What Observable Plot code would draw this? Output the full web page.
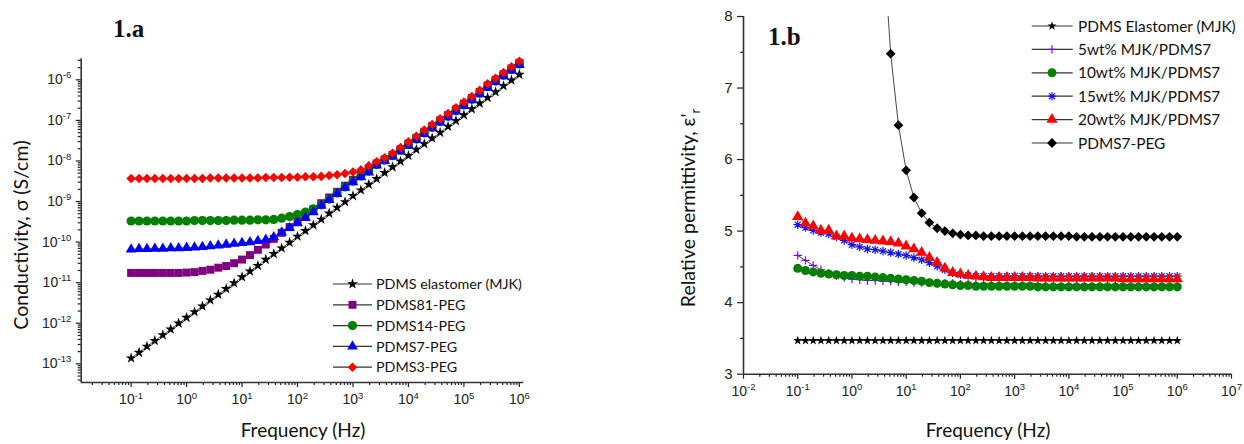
<!DOCTYPE html>
<html><head><meta charset="utf-8">
<script src="https://cdn.jsdelivr.net/npm/d3@7"></script>
<script src="https://cdn.jsdelivr.net/npm/@observablehq/plot@0.6"></script>
<style>
body{margin:0;background:#fff;width:1244px;height:444px;overflow:hidden;position:relative}
#a{position:absolute;left:0;top:0}
#b{position:absolute;left:600px;top:0}
</style></head><body><div id="a"></div><div id="b"></div>
<script>
// measurement frequencies (Hz)
const freq = [0.1,0.139,0.193,0.268,0.373,0.518,0.72, 1,1.39,1.93,2.68,3.73,5.18,7.2,
  10,13.9,19.3,26.8,37.3,51.8,72, 100,139,193,268,373,518,720,
  1e3,1390,1930,2680,3730,5180,7200, 1e4,13900,19300,26800,37300,51800,72000,
  1e5,139000,193000,268000,373000,518000,720000, 1e6];

// Chart 1.a : log10 of conductivity (S/cm)
const sigElastomer = [-12.86,-12.72,-12.57,-12.43,-12.29,-12.15,-12.00,-11.86,-11.72,-11.58,
  -11.43,-11.29,-11.15,-11.01,-10.86,-10.72,-10.58,-10.43,-10.29,-10.15,
  -10.01,-9.86,-9.72,-9.58,-9.44,-9.29,-9.15,-9.01,-8.86,-8.72,
  -8.58,-8.44,-8.29,-8.15,-8.01,-7.87,-7.72,-7.58,-7.44,-7.30,
  -7.15,-7.01,-6.87,-6.72,-6.58,-6.44,-6.30,-6.15,-6.01,-5.87];
const sigPDMS81 = [-10.76,-10.76,-10.76,-10.76,-10.76,-10.76,-10.76,-10.75,-10.74,-10.71,
  -10.68,-10.63,-10.59,-10.52,-10.43,-10.32,-10.19,-10.06,-9.92,-9.77,
  -9.63,-9.49,-9.33,-9.19,-9.04,-8.90,-8.76,-8.61,-8.47,-8.33,
  -8.19,-8.06,-7.96,-7.85,-7.71,-7.57,-7.43,-7.28,-7.14,-7.00,
  -6.87,-6.73,-6.59,-6.45,-6.30,-6.14,-6.00,-5.86,-5.72,-5.58];
const sigPDMS14 = [-9.48,-9.48,-9.48,-9.48,-9.48,-9.48,-9.48,-9.48,-9.47,-9.47,
  -9.47,-9.47,-9.47,-9.46,-9.46,-9.46,-9.45,-9.45,-9.44,-9.41,
  -9.37,-9.32,-9.26,-9.18,-9.08,-8.94,-8.79,-8.64,-8.50,-8.37,
  -8.25,-8.09,-7.98,-7.87,-7.74,-7.60,-7.46,-7.31,-7.17,-7.03,
  -6.90,-6.76,-6.62,-6.48,-6.33,-6.17,-6.03,-5.89,-5.75,-5.61];
const sigPDMS7 = [-10.18,-10.17,-10.17,-10.16,-10.16,-10.15,-10.15,-10.14,-10.13,-10.12,
  -10.10,-10.08,-10.06,-10.04,-10.02,-10.00,-9.97,-9.94,-9.88,-9.76,
  -9.65,-9.53,-9.40,-9.26,-9.10,-8.96,-8.81,-8.66,-8.52,-8.40,
  -8.28,-8.11,-8.00,-7.89,-7.76,-7.62,-7.48,-7.33,-7.19,-7.05,
  -6.92,-6.78,-6.64,-6.50,-6.35,-6.19,-6.05,-5.91,-5.77,-5.63];
const sigPDMS3 = [-8.43,-8.43,-8.43,-8.43,-8.43,-8.43,-8.43,-8.43,-8.43,-8.43,
  -8.42,-8.42,-8.42,-8.42,-8.42,-8.42,-8.42,-8.41,-8.41,-8.41,
  -8.40,-8.40,-8.39,-8.39,-8.38,-8.36,-8.34,-8.31,-8.27,-8.22,
  -8.12,-8.02,-7.92,-7.81,-7.67,-7.53,-7.39,-7.24,-7.10,-6.96,
  -6.83,-6.69,-6.55,-6.41,-6.26,-6.10,-5.96,-5.82,-5.68,-5.54];

// Chart 1.b : relative permittivity
const epsElastomer = [3.47,3.47,3.47,3.47,3.47,3.47,3.47,3.47,3.47,3.47,
  3.47,3.47,3.47,3.47,3.47,3.47,3.47,3.47,3.47,3.47,
  3.47,3.47,3.47,3.47,3.47,3.47,3.47,3.47,3.47,3.47,
  3.47,3.47,3.47,3.47,3.47,3.47,3.47,3.47,3.47,3.47,
  3.47,3.47,3.47,3.47,3.47,3.47,3.47,3.47,3.47,3.47];
const eps5 = [4.66,4.59,4.52,4.46,4.41,4.38,4.35,4.33,4.32,4.31,
  4.31,4.30,4.30,4.29,4.29,4.28,4.28,4.28,4.27,4.27,
  4.27,4.26,4.26,4.26,4.26,4.26,4.26,4.26,4.26,4.26,
  4.26,4.26,4.25,4.25,4.25,4.25,4.25,4.25,4.25,4.25,
  4.25,4.25,4.25,4.25,4.25,4.25,4.25,4.25,4.25,4.25];
const eps10 = [4.48,4.45,4.43,4.41,4.40,4.39,4.38,4.38,4.37,4.37,
  4.36,4.35,4.34,4.33,4.32,4.31,4.30,4.28,4.27,4.26,
  4.25,4.24,4.24,4.23,4.23,4.23,4.23,4.23,4.23,4.23,
  4.23,4.22,4.22,4.22,4.22,4.22,4.22,4.22,4.22,4.22,
  4.22,4.22,4.22,4.22,4.22,4.22,4.22,4.22,4.22,4.22];
const eps15 = [5.09,5.05,5.01,4.98,4.96,4.92,4.87,4.81,4.78,4.75,
  4.74,4.72,4.70,4.68,4.66,4.63,4.60,4.56,4.51,4.46,
  4.42,4.39,4.38,4.37,4.37,4.37,4.37,4.37,4.37,4.37,
  4.37,4.37,4.37,4.37,4.37,4.37,4.37,4.37,4.37,4.37,
  4.37,4.37,4.37,4.37,4.37,4.37,4.37,4.37,4.37,4.37];
const eps20 = [5.20,5.11,5.07,5.01,5.01,4.93,4.93,4.90,4.89,4.88,
  4.87,4.86,4.85,4.83,4.79,4.75,4.70,4.63,4.56,4.48,
  4.42,4.40,4.38,4.37,4.36,4.35,4.35,4.35,4.35,4.35,
  4.35,4.34,4.34,4.34,4.34,4.34,4.34,4.34,4.34,4.34,
  4.34,4.34,4.33,4.33,4.33,4.33,4.33,4.33,4.33,4.33];
const epsPEG = [null,null,null,null,null,null,null,null,null,null,
  11.6,9.1,7.48,6.48,5.85,5.47,5.25,5.12,5.04,5.00,
  4.97,4.95,4.94,4.94,4.93,4.93,4.93,4.93,4.93,4.93,
  4.93,4.93,4.93,4.93,4.93,4.93,4.92,4.92,4.92,4.92,
  4.92,4.92,4.92,4.92,4.92,4.92,4.92,4.92,4.92,4.92];

const namesA = ["PDMS elastomer (MJK)","PDMS81-PEG","PDMS14-PEG","PDMS7-PEG","PDMS3-PEG"];
const namesB = ["PDMS Elastomer (MJK)","5wt% MJK/PDMS7","10wt% MJK/PDMS7","15wt% MJK/PDMS7","20wt% MJK/PDMS7","PDMS7-PEG"];

const asterisk8 = {draw(ctx, size){
  const r = Math.sqrt(size/Math.PI)*1.3, d = r*Math.SQRT1_2;
  ctx.moveTo(-r,0);ctx.lineTo(r,0);ctx.moveTo(0,-r);ctx.lineTo(0,r);
  ctx.moveTo(-d,-d);ctx.lineTo(d,d);ctx.moveTo(-d,d);ctx.lineTo(d,-d);
}};
const d3sym = {star:d3.symbolStar, square:d3.symbolSquare, circle:d3.symbolCircle,
  triangle:d3.symbolTriangle, diamond2:d3.symbolDiamond2, plus:d3.symbolPlus};

const stylesA = [
  {sym:"star", color:"#000", r:3.4},
  {sym:"square", color:"#800080", r:4.5},
  {sym:"circle", color:"#008000", r:4.6},
  {sym:"triangle", color:"#0000ff", r:4.0},
  {sym:"diamond2", color:"#ff0000", r:4.3}];
const stylesB = [
  {sym:"star", color:"#000", r:2.9},
  {sym:"plus", color:"#8000ff", r:2.8, stroked:true},
  {sym:"circle", color:"#008000", r:4.5},
  {sym:"ast", color:"#1010ff", r:3.3, stroked:true},
  {sym:"triangle", color:"#ff0000", r:4.2},
  {sym:"diamond2", color:"#000", r:4.4}];

const valsA = [sigElastomer, sigPDMS81, sigPDMS14, sigPDMS7, sigPDMS3];
const valsB = [epsElastomer, eps5, eps10, eps15, eps20, epsPEG];

function majorTicks(lo, hi){const o=[];for(let e=Math.floor(Math.log10(lo));e<=Math.ceil(Math.log10(hi));e++){const v=10**e;if(v>=lo*0.999&&v<=hi*1.001)o.push(v);}return o;}
function minorTicks(lo, hi){const o=[];for(let e=Math.floor(Math.log10(lo));e<=Math.ceil(Math.log10(hi));e++)for(let m=2;m<=9;m++){const v=m*10**e;if(v>=lo&&v<=hi)o.push(v);}return o;}
const fmtExp = d => "10^" + Math.round(Math.log10(d));

function seriesMarks(names, vals, styles, transform, yDom){
  const marks = [];
  names.forEach((name, si) => {
    const rows = freq.map((f,i)=>({f, v: vals[si][i]==null?null:transform(vals[si][i]), s:name}))
      .filter(d => d.v != null);
    const st = styles[si];
    marks.push(Plot.line(rows, {x:"f", y:"v", stroke:"#333", strokeWidth:0.9, clip:true}));
    const inside = rows.filter(d => d.v >= yDom[0] && d.v <= yDom[1]);
    const symbol = st.sym === "ast" ? asterisk8 : st.sym;
    marks.push(Plot.dot(inside, {x:"f", y:"v", symbol, r:st.r,
      fill: st.stroked ? "none" : st.color, stroke: st.stroked ? st.color : "none",
      strokeWidth: st.stroked ? 1.2 : 0}));
  });
  return marks;
}

function supify(svg){
  d3.select(svg).selectAll("text").each(function(){
    const t = this.textContent;
    if (!t.includes("^")) return;
    const [base, exp] = t.split("^");
    const sel = d3.select(this); sel.text(null);
    sel.append("tspan").text(base);
    sel.append("tspan").attr("dy","-0.62em").attr("font-size","9.5px").text(exp);
  });
}

function addText(svg, x, y, txt, opts){
  const t = d3.select(svg).append("text").attr("x",x).attr("y",y)
    .attr("font-family", opts.family || "Lato").attr("font-size", opts.size)
    .attr("font-weight", opts.weight || "normal").attr("fill","#111")
    .attr("text-anchor", opts.anchor || "start");
  if (opts.rotate) t.attr("transform", `rotate(-90 ${x} ${y})`);
  return t.text(txt);
}

function legend(svg, names, styles, cfg){
  const g = d3.select(svg).append("g").attr("text-anchor","start");
  names.forEach((name,i)=>{
    const y = cfg.y0 + i*cfg.dy, st = styles[i];
    g.append("line").attr("x1",cfg.x0).attr("x2",cfg.x1).attr("y1",y).attr("y2",y)
      .attr("stroke","#333").attr("stroke-width",1.2);
    const type = st.sym === "ast" ? asterisk8 : d3sym[st.sym];
    g.append("path").attr("d", d3.symbol(type, st.r*st.r*Math.PI)())
      .attr("transform",`translate(${cfg.xm},${y})`)
      .attr("fill", st.stroked ? "none" : st.color).attr("stroke", st.stroked ? st.color : "none")
      .attr("stroke-width", 1.2);
    g.append("text").attr("x",cfg.xt).attr("y",y).attr("dy","0.36em").attr("text-anchor","start")
      .attr("font-family","Lato").attr("font-size",cfg.fs).attr("fill","#111").text(name);
  });
}

// ---------- Chart 1.a ----------
const xDomA = [10**-1.9, 10**6.08];
const yDomA = [10**-13.46, 10**-5.482];
const chartA = Plot.plot({
  width: 600, height: 444,
  marginLeft: 80.7, marginRight: 76.7, marginTop: 58.3, marginBottom: 62,
  x: {type:"log", domain: xDomA},
  y: {type:"log", domain: yDomA},
  style: {fontFamily:"'Liberation Sans', Arial, sans-serif", fontSize:"14px", color:"#222", background:"white", overflow:"visible"},
  marks: [
    Plot.axisX({ticks: minorTicks(...xDomA), tickSize:3, tickFormat: ()=>"", label:null, strokeWidth:1.2}),
    Plot.axisX({ticks: majorTicks(...xDomA), tickSize:5, tickPadding:7, tickFormat: fmtExp, label:null, fontSize:14, strokeWidth:1.2}),
    Plot.axisY({ticks: minorTicks(...yDomA), tickSize:3, tickFormat: ()=>"", label:null, strokeWidth:1.2}),
    Plot.axisY({ticks: majorTicks(...yDomA), tickSize:5, tickPadding:5, tickFormat: fmtExp, label:null, fontSize:14, strokeWidth:1.2}),
    ...seriesMarks(namesA, valsA, stylesA, v => 10**v, yDomA),
    Plot.ruleX([xDomA[0]], {stroke:"#333", strokeWidth:1.6}),
    Plot.ruleY([yDomA[0]], {stroke:"#333", strokeWidth:1.6})
  ]
});
document.getElementById("a").appendChild(chartA);
supify(chartA);
addText(chartA, 113, 37, "1.a", {family:"'Liberation Serif', serif", size:"25px", weight:"bold"});
addText(chartA, 303, 437, "Frequency (Hz)", {size:"19px", anchor:"middle"});
addText(chartA, 28, 235, "Conductivity, σ (S/cm)", {size:"19.5px", anchor:"middle", rotate:true});
legend(chartA, namesA, stylesA, {x0:333, x1:372, xm:352.5, xt:376, y0:284, dy:20.8, fs:"14.3px"});

// ---------- Chart 1.b ----------
const xDomB = [0.01, 1e7];
const yDomB = [3, 8];
const chartB = Plot.plot({
  width: 644, height: 444,
  marginLeft: 143, marginRight: 13, marginTop: 16, marginBottom: 70.3,
  x: {type:"log", domain: xDomB},
  y: {domain: yDomB},
  style: {fontFamily:"'Liberation Sans', Arial, sans-serif", fontSize:"14px", color:"#222", background:"white", overflow:"visible"},
  marks: [
    Plot.axisX({ticks: minorTicks(...xDomB), tickSize:3, tickFormat: ()=>"", label:null, strokeWidth:1.2}),
    Plot.axisX({ticks: majorTicks(...xDomB), tickSize:5, tickPadding:7, tickFormat: fmtExp, label:null, fontSize:14, strokeWidth:1.2}),
    Plot.axisY({ticks: [3.5,4.5,5.5,6.5,7.5], tickSize:3, tickFormat: ()=>"", label:null, strokeWidth:1.2}),
    Plot.axisY({ticks: [3,4,5,6,7,8], tickSize:6, tickPadding:5, tickFormat: d=>String(d), label:null, fontSize:15, strokeWidth:1.2}),
    ...seriesMarks(namesB, valsB, stylesB, v => v, yDomB),
    Plot.ruleX([xDomB[0]], {stroke:"#333", strokeWidth:1.6}),
    Plot.ruleY([yDomB[0]], {stroke:"#333", strokeWidth:1.6})
  ]
});
document.getElementById("b").appendChild(chartB);
supify(chartB);
addText(chartB, 168, 45, "1.b", {family:"'Liberation Serif', serif", size:"25px", weight:"bold"});
addText(chartB, 388, 437, "Frequency (Hz)", {size:"19px", anchor:"middle"});
const yl = addText(chartB, 95, 208, "Relative permittivity, ε'", {size:"19.5px", anchor:"middle", rotate:true});
yl.append("tspan").attr("dy","0.35em").attr("font-size","13px").text("r");
legend(chartB, namesB, stylesB, {x0:431.7, x1:472.7, xm:452, xt:478, y0:26, dy:23.4, fs:"15.4px"});
</script></body></html>
